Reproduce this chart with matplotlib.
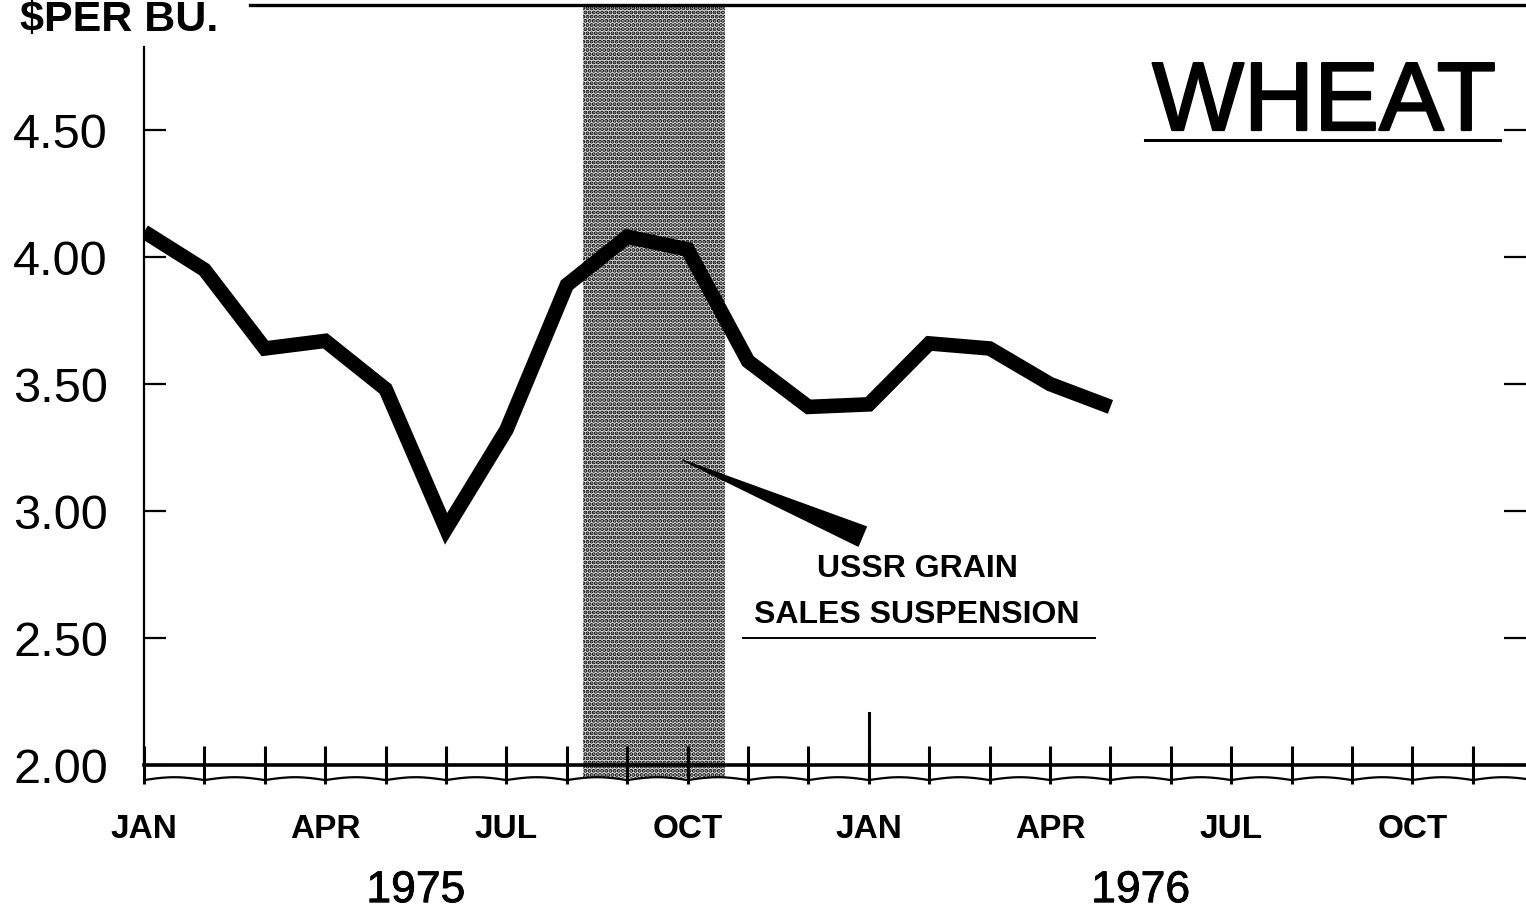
import matplotlib.pyplot as plt
import matplotlib.transforms as mtransforms
import matplotlib.patheffects as pe
from matplotlib.lines import Line2D
import numpy as np

plt.rcParams['font.family'] = ['Liberation Sans', 'DejaVu Sans']
plt.rcParams['hatch.linewidth'] = 2.0

# monthly wheat price, $ per bushel, Jan 1975 .. May 1976
months = np.arange(17)
price = [4.10, 3.95, 3.64, 3.67, 3.48, 2.93, 3.32, 3.89, 4.08, 4.03,
         3.59, 3.41, 3.42, 3.66, 3.64, 3.50, 3.41]

quarter_pos = [0, 3, 6, 9, 12, 15, 18, 21]
quarter_lab = ['JAN', 'APR', 'JUL', 'OCT', 'JAN', 'APR', 'JUL', 'OCT']
years = ['1975', '1976']
year_pos = [4.5, 16.5]
yticks = [2.0, 2.5, 3.0, 3.5, 4.0, 4.5]
ylabels = ['2.00', '2.50', '3.00', '3.50', '4.00', '4.50']
suspension = (7.27, 9.62)   # shaded months
pointer_tip = (8.92, 3.20)
pointer_tail = (11.89, 2.90)

fig = plt.figure(figsize=(15.26, 9.13), dpi=100)
ax = fig.add_axes([0.0944, 0.1621, 0.9056, 0.7864])
ax.set_xlim(0, 22.88)
ax.set_ylim(2.0, 4.827)

# shaded suspension period (halftone)
ax.axvspan(suspension[0], suspension[1], ymin=-0.018, ymax=1.06,
           facecolor='#e4e4e4', edgecolor='black', hatch='....',
           linewidth=0, clip_on=False, zorder=1)

ax.plot(months, price, color='black', linewidth=10.5,
        solid_joinstyle='miter', solid_capstyle='butt', zorder=3)

# spines and ticks
for s in ['top', 'right']:
    ax.spines[s].set_visible(False)
ax.spines['left'].set_linewidth(1.6)
ax.spines['bottom'].set_linewidth(2.6)

ax.set_xticks(quarter_pos)
ax.set_xticklabels(quarter_lab, fontsize=24, fontweight='bold')
ax.set_xticks(np.arange(23), minor=True)
ax.tick_params(axis='x', which='both', direction='inout', length=28,
               width=2.2, pad=21)
ax.axvline(12, ymin=0, ymax=52 / 718, color='black', linewidth=2.2)

ax.set_yticks(yticks)
ax.set_yticklabels(ylabels, fontsize=35)
ax.tick_params(axis='y', which='major', direction='in', length=16,
               width=1.6, pad=26, right=True)
for t in ax.yaxis.get_major_ticks():
    t.tick2line.set_linewidth(2.6)
    t.tick2line.set_markersize(16)

# wavy break line under the axis
trans = mtransforms.blended_transform_factory(ax.transData, ax.transAxes)
wx = np.linspace(0, 22.88, 600)
wy = -0.021 + 0.004 * np.abs(np.sin(np.pi * wx))
ax.plot(wx, wy, color='black', linewidth=1.6, transform=trans, clip_on=False)

# years
for yr, p in zip(years, year_pos):
    ax.text(p, -0.175, yr, transform=trans, ha='center', va='center',
            fontsize=32, path_effects=[pe.withStroke(linewidth=0.6, foreground='black')])

# annotation
ax.annotate('', xy=pointer_tip, xytext=pointer_tail,
            arrowprops=dict(arrowstyle='wedge,tail_width=0.75,shrink_factor=0.5',
                            facecolor='black', edgecolor='black',
                            shrinkA=0, shrinkB=0, mutation_scale=20), zorder=4)
ax.text(12.8, 2.77, 'USSR GRAIN', ha='center', va='center', fontsize=23,
        fontweight='bold')
ax.text(12.8, 2.59, 'SALES SUSPENSION', ha='center', va='center', fontsize=23,
        fontweight='bold')
ax.plot([9.92, 15.75], [2.50, 2.50], color='black', linewidth=1.4)

# titles
fig.text(0.013, 0.966, '$PER BU.', fontsize=31, fontweight='bold',
         ha='left', va='baseline')
fig.text(0.8677, 0.8576, 'WHEAT', fontsize=70, ha='center', va='baseline',
         path_effects=[pe.withStroke(linewidth=1.6, foreground='black')])
fig.add_artist(Line2D([0.750, 0.983], [0.8467, 0.8467], color='black',
                      linewidth=2.2))
fig.add_artist(Line2D([0.164, 1.0], [0.9945, 0.9945], color='black',
                      linewidth=2.4))

fig.savefig('out.png', dpi=100)
